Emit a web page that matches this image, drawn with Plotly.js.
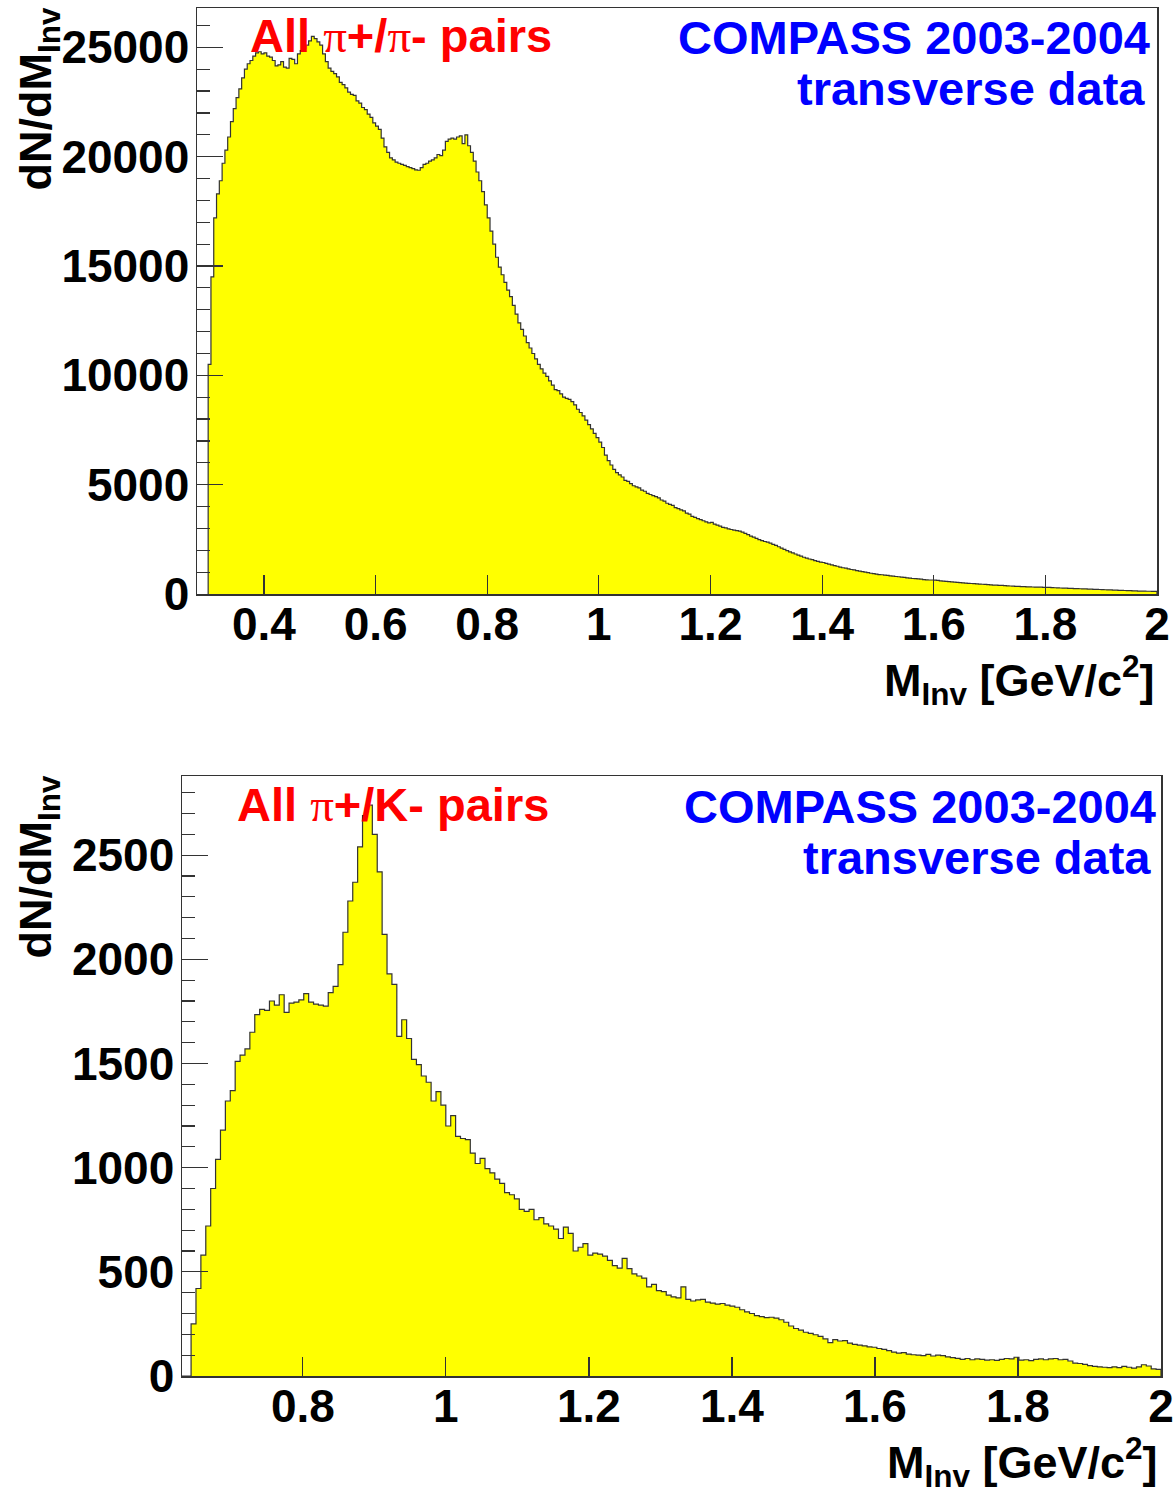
<!DOCTYPE html>
<html>
<head>
<meta charset="utf-8">
<script src="https://cdn.plot.ly/plotly-3.0.1.min.js"></script>
<style>html,body{margin:0;padding:0;background:#fff;}#chart{width:1174px;height:1493px;}</style>
</head>
<body>
<div id="chart"></div>
<script>
// ---------------- DATA ----------------
// Top panel: pi+/pi- invariant mass histogram
const topBinStart = 0.30;
const topBinWidth = 0.005;
const topCounts = [
 10500,14500,17200,18300,18900,19700,20300,20900,21600,22200,22700,23100,23600,24000,24250,24400,24600,24750,24800,24700,
 24750,24600,24550,24400,24150,24200,24350,24100,24050,24500,24450,24250,24700,24850,24950,25100,25300,25500,25400,25250,
 25100,24700,24350,24050,23900,23800,23650,23400,23300,23150,22950,22850,22800,22550,22450,22250,22150,21950,21800,21550,
 21400,21250,20850,20450,20200,19950,19850,19750,19700,19650,19600,19550,19500,19450,19400,19380,19500,19650,19700,19800,
 19850,19950,20100,20050,20300,20700,20800,20850,20800,20900,20950,20600,21000,20500,20200,19800,19300,18900,18400,17800,
 17200,16600,16000,15400,14950,14600,14250,13900,13600,13200,12800,12400,12100,11800,11500,11250,11000,10750,10500,10300,
 10100,9950,9750,9550,9350,9300,9150,9000,8950,8900,8800,8650,8450,8300,8150,7950,7750,7550,7350,7150,
 6950,6700,6350,6100,5900,5700,5550,5450,5350,5200,5150,5050,4950,4900,4850,4750,4700,4600,4550,4500,
 4450,4400,4300,4250,4150,4100,4050,3950,3900,3850,3800,3700,3650,3550,3500,3450,3400,3350,3300,3250,
 3280,3200,3150,3100,3050,3020,2980,2950,2920,2900,2880,2830,2770,2720,2650,2600,2540,2490,2440,2400,
 2370,2330,2270,2220,2160,2100,2040,1980,1930,1880,1830,1780,1730,1680,1640,1600,1570,1530,1490,1460,
 1440,1400,1370,1330,1300,1270,1230,1200,1180,1150,1120,1100,1070,1050,1020,1000,980,950,930,910,
 890,880,860,850,830,820,800,790,770,760,740,730,710,700,690,680,660,650,640,640,
 630,620,600,590,580,570,550,540,530,520,510,500,490,480,470,460,455,445,440,430,
 420,410,405,395,390,380,375,365,360,350,345,340,335,330,325,320,315,315,310,305,
 305,300,290,285,280,275,270,265,260,255,250,245,240,235,230,225,220,215,210,205,
 200,195,190,185,180,175,170,165,160,155,150,145,140,135,130,130,125,125,120,120
];

// Bottom panel: pi+/K- invariant mass histogram
const botBinStart = 0.63;
const botBinWidth = 0.00685;
const botCounts = [
 0,0,250,420,580,720,900,1040,1180,1320,1370,1510,1540,1570,1650,1735,1760,1755,1800,1780,
 1830,1745,1790,1795,1805,1835,1795,1785,1780,1775,1840,1870,1975,2130,2280,2370,2540,2690,2740,2600,
 2420,2120,1930,1880,1630,1710,1620,1520,1495,1440,1410,1320,1365,1300,1200,1250,1150,1140,1135,1070,
 1020,1045,995,975,945,925,880,870,850,800,790,800,750,760,730,720,705,660,715,685,
 600,618,635,580,590,585,575,555,530,518,565,515,490,480,470,428,440,410,405,388,
 380,375,428,368,360,365,368,355,350,345,348,340,335,330,318,308,300,290,285,280,
 282,278,270,258,240,228,220,210,205,198,190,178,160,175,168,170,158,152,148,145,
 140,138,132,128,122,115,110,112,105,102,100,98,104,96,100,98,92,88,85,80,
 84,78,82,80,76,78,75,80,84,82,90,76,78,74,80,82,78,82,84,78,
 80,72,62,60,56,50,46,44,42,40,44,40,46,42,38,44,54,48,34,32
];

const topXRange = [0.28, 2.0];
const topYRange = [0, 26800];
const botXRange = [0.631, 2.0];
const botYRange = [0, 2880];

const topLabel = "All π+/π- pairs";
const botLabel = "All π+/K- pairs";
const expLabel = "COMPASS 2003-2004";
const dataLabel = "transverse data";

// ---------------- BUILD ----------------
function histPoints(start, width, counts) {
  const xs = [start], ys = [0];
  counts.forEach((c, i) => { xs.push(start + i * width); ys.push(c); });
  xs.push(start + counts.length * width); ys.push(counts[counts.length - 1]);
  xs.push(start + counts.length * width); ys.push(0);
  return {xs, ys};
}
const tp = histPoints(topBinStart, topBinWidth, topCounts);
const bp = histPoints(botBinStart, botBinWidth, botCounts);

const lineCol = '#333333';
const traces = [
  {x: tp.xs, y: tp.ys, type: 'scatter', mode: 'lines', line: {shape: 'hv', color: lineCol, width: 1.2},
   fill: 'tozeroy', fillcolor: '#ffff00', xaxis: 'x', yaxis: 'y', hoverinfo: 'skip'},
  {x: bp.xs, y: bp.ys, type: 'scatter', mode: 'lines', line: {shape: 'hv', color: lineCol, width: 1.2},
   fill: 'tozeroy', fillcolor: '#ffff00', xaxis: 'x2', yaxis: 'y2', hoverinfo: 'skip'}
];

const W = 1174, H = 1493;
const px = v => v / W;
const py = v => 1 - v / H;

const font = 'Liberation Sans, Arial, Helvetica, sans-serif';
const tickFont = {family: font, size: 46, color: '#000', weight: 'bold'};

function xAxis(range, dom, anchor) {
  return {domain: dom, range: range, anchor: anchor, tick0: 0, dtick: 0.2,
    ticks: 'inside', ticklen: 19, tickwidth: 1.2, tickcolor: lineCol,
    showline: true, mirror: true, linecolor: lineCol, linewidth: 1.5,
    showgrid: false, zeroline: false, tickfont: tickFont, ticklabelstandoff: -11};
}
function yAxis(range, dom, anchor, dt, mdt) {
  return {domain: dom, range: range, anchor: anchor, tick0: 0, dtick: dt, tickformat: 'd',
    ticks: 'inside', ticklen: 26, tickwidth: 1.2, tickcolor: lineCol,
    minor: {dtick: mdt, ticklen: 13, ticks: 'inside', tickcolor: lineCol, tickwidth: 1.2, showgrid: false},
    showline: true, mirror: true, linecolor: lineCol, linewidth: 1.5,
    showgrid: false, zeroline: false, tickfont: tickFont, ticklabelstandoff: -3};
}

function pairLabel(t) {
  return '<b>' + t.replace(/π/g, '</b><span style="font-family:Liberation Serif,serif;font-weight:normal">π</span><b>') + '</b>';
}

const ann = [];
function addPanelText(label, lx, ly, rx, y1, y2, yTitleTop, xTitleRight, xTitleY) {
  ann.push({text: pairLabel(label), xref: 'paper', yref: 'paper', x: px(lx), y: py(ly), xanchor: 'left', yanchor: 'middle',
    showarrow: false, font: {family: font, size: 47, color: '#ff0000'}});
  ann.push({text: '<b>' + expLabel + '</b>', xref: 'paper', yref: 'paper', x: px(rx), y: py(y1), xanchor: 'right', yanchor: 'middle',
    showarrow: false, font: {family: font, size: 47, color: '#0000ff'}});
  ann.push({text: '<b>' + dataLabel + '</b>', xref: 'paper', yref: 'paper', x: px(rx - 5), y: py(y2), xanchor: 'right', yanchor: 'middle',
    showarrow: false, font: {family: font, size: 47, color: '#0000ff'}});
  ann.push({text: '<b>dN/dM<sub>Inv</sub></b>', xref: 'paper', yref: 'paper', x: px(38), y: py(yTitleTop), xanchor: 'center', yanchor: 'top',
    textangle: -90, showarrow: false, font: {family: font, size: 45, color: '#000'}});
  ann.push({text: '<b>M<sub>Inv</sub> [GeV/c<sup>2</sup>]</b>', xref: 'paper', yref: 'paper', x: px(xTitleRight), y: py(xTitleY), xanchor: 'right', yanchor: 'middle',
    showarrow: false, font: {family: font, size: 45, color: '#000'}});
}
addPanelText(topLabel, 248, 36, 1152, 38, 88, 6, 1157, 680);
addPanelText(botLabel, 235, 804, 1158, 806, 857, 774, 1160, 1462);

const layout = {
  width: W, height: H, autosize: false,
  margin: {l: 0, r: 0, t: 0, b: 0},
  paper_bgcolor: '#ffffff', plot_bgcolor: '#ffffff',
  showlegend: false,
  xaxis: xAxis(topXRange, [px(197), px(1157)], 'y'),
  yaxis: yAxis(topYRange, [py(594), py(8)], 'x', 5000, 1000),
  xaxis2: xAxis(botXRange, [px(182), px(1161)], 'y2'),
  yaxis2: yAxis(botYRange, [py(1376), py(776)], 'x2', 500, 100),
  annotations: ann
};

Plotly.newPlot('chart', traces, layout, {displayModeBar: false, staticPlot: true});
</script>
</body>
</html>
